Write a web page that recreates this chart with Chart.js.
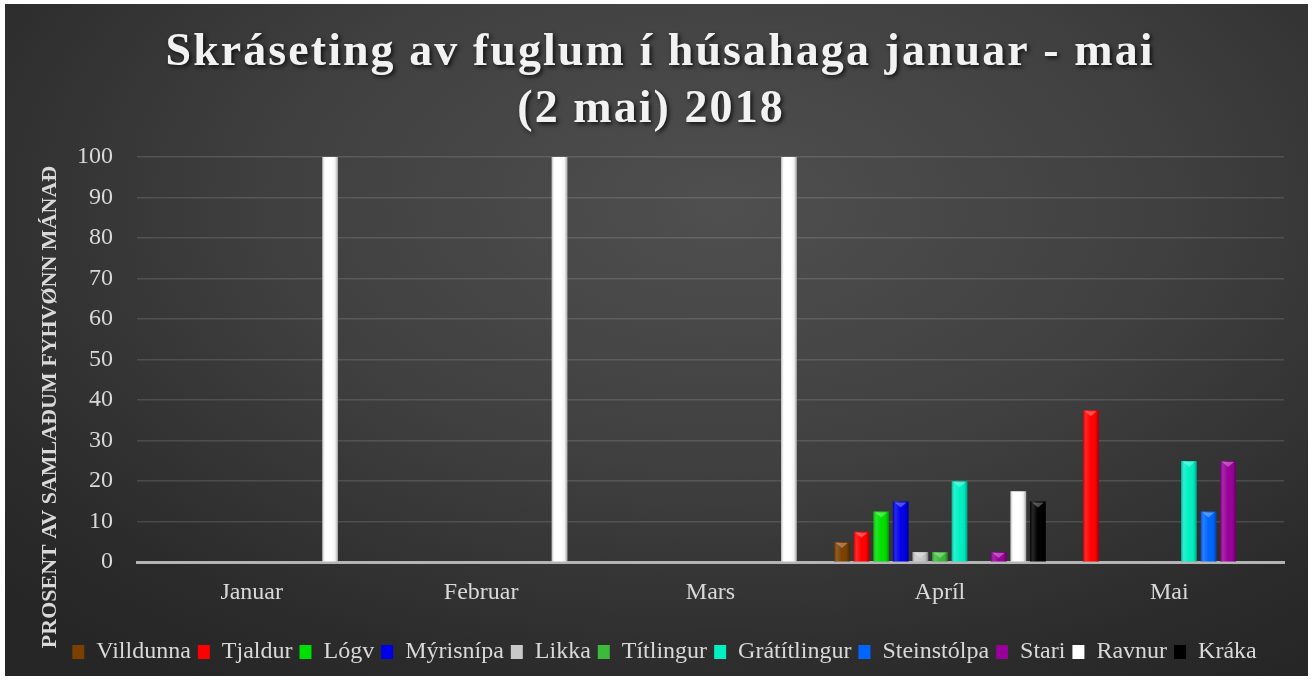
<!DOCTYPE html>
<html>
<head>
<meta charset="utf-8">
<script src="https://cdn.jsdelivr.net/npm/chart.js@4.4.1/dist/chart.umd.min.js"></script>
<style>
  html, body { margin: 0; padding: 0; background: #ffffff; }
  #wrap {
    position: absolute; left: 5px; top: 4px; width: 1303px; height: 672px;
    background: radial-gradient(ellipse 75% 85% at 55% 30%, #4f4f4f 0%, #404040 45%, #2b2b2b 85%, #262626 100%);
  }
</style>
</head>
<body>
<div id="wrap"><canvas id="chart"></canvas></div>
<script>
const months = ["Januar", "Februar", "Mars", "Apríl", "Mai"];
const species = ["Villdunna", "Tjaldur", "Lógv", "Mýrisnípa", "Likka", "Títlingur",
  "Grátítlingur", "Steinstólpa", "Stari", "Ravnur", "Kráka"];
const speciesColors = ["#7b3f00", "#ff0000", "#00e000", "#0000e8", "#c8c8c8", "#3cba3c",
  "#00f0c4", "#0066ff", "#990099", "#ffffff", "#000000"];
const villdunna = [0, 0, 0, 5, 0];
const tjaldur = [0, 0, 0, 7.5, 37.5];
const logv = [0, 0, 0, 12.5, 0];
const myrisnipa = [0, 0, 0, 15, 0];
const likka = [0, 0, 0, 2.5, 0];
const titlingur = [0, 0, 0, 2.5, 0];
const gratitlingur = [0, 0, 0, 20, 25];
const steinstolpa = [0, 0, 0, 0, 12.5];
const stari = [0, 0, 0, 2.5, 25];
const ravnur = [100, 100, 100, 17.5, 0];
const kraka = [0, 0, 0, 15, 0];
const seriesValues = [villdunna, tjaldur, logv, myrisnipa, likka, titlingur,
  gratitlingur, steinstolpa, stari, ravnur, kraka];
const yTicks = [0, 10, 20, 30, 40, 50, 60, 70, 80, 90, 100];

const TITLE_LINES = ["Skráseting av fuglum í húsahaga januar - mai", "(2 mai) 2018"];
const Y_TITLE = "PROSENT AV SAMLAÐUM FYHVØNN MÁNAÐ";
const FONT = "'Liberation Serif', 'DejaVu Serif', serif";
const TEXT = "#d9d9d9";

// title + y axis title, drawn by hand so letter spacing can match
const textPlugin = {
  id: "textPlugin",
  afterDraw(chart) {
    const ctx = chart.ctx;
    ctx.save();
    ctx.font = `bold 46px ${FONT}`;
    ctx.textAlign = "center";
    ctx.textBaseline = "alphabetic";
    ctx.letterSpacing = "0px";
    const w0 = ctx.measureText(TITLE_LINES[0]).width;
    const spacing = Math.max(0, (987 - w0) / (TITLE_LINES[0].length - 1));
    ctx.letterSpacing = `${spacing}px`;
    ctx.shadowColor = "rgba(0,0,0,0.75)";
    ctx.shadowBlur = 4;
    ctx.shadowOffsetX = 2;
    ctx.shadowOffsetY = 2;
    ctx.fillStyle = "#f2f2f2";
    ctx.fillText(TITLE_LINES[0], 654 + spacing / 2, 61);
    ctx.fillText(TITLE_LINES[1], 645 + spacing / 2, 118);
    ctx.restore();

    ctx.save();
    ctx.translate(45, 403);
    ctx.rotate(-Math.PI / 2);
    ctx.font = `bold 22px ${FONT}`;
    ctx.textAlign = "center";
    ctx.textBaseline = "middle";
    ctx.fillStyle = TEXT;
    ctx.fillText(Y_TITLE, 0, 0);
    ctx.restore();
  },
};

// bevel shading on top of the bars the library placed
const bevelPlugin = {
  id: "bevelPlugin",
  afterDatasetsDraw(chart) {
    const ctx = chart.ctx;
    chart.data.datasets.forEach((ds, i) => {
      const meta = chart.getDatasetMeta(i);
      meta.data.forEach((bar) => {
        const p = bar.getProps(["x", "y", "base", "width"], true);
        const h = p.base - p.y;
        if (h < 1) return;
        const l = p.x - p.width / 2;
        const r = p.x + p.width / 2;
        const g = ctx.createLinearGradient(l, 0, r, 0);
        g.addColorStop(0, "rgba(0,0,0,0.25)");
        g.addColorStop(0.18, "rgba(255,255,255,0.15)");
        g.addColorStop(0.5, "rgba(255,255,255,0)");
        g.addColorStop(0.82, "rgba(0,0,0,0.05)");
        g.addColorStop(1, "rgba(0,0,0,0.35)");
        ctx.save();
        ctx.fillStyle = g;
        ctx.fillRect(l, p.y, p.width, h);
        ctx.fillStyle = "rgba(255,255,255,0.3)";
        ctx.beginPath();
        ctx.moveTo(l + 2, p.y + 1);
        ctx.lineTo(r - 2, p.y + 1);
        ctx.lineTo(p.x, p.y + Math.min(6, h));
        ctx.closePath();
        ctx.fill();
        ctx.restore();
      });
    });
  },
};

const datasets = species.map((name, i) => ({
  label: name,
  data: seriesValues[i],
  backgroundColor: speciesColors[i],
  borderWidth: 0,
  categoryPercentage: 0.94,
  barPercentage: 0.8,
}));

new Chart(document.getElementById("chart"), {
  type: "bar",
  data: { labels: months, datasets: datasets },
  options: {
    responsive: true,
    maintainAspectRatio: false,
    animation: false,
    layout: { padding: { top: 153, left: 40, right: 24, bottom: 2 } },
    plugins: {
      title: { display: false },
      tooltip: { enabled: false },
      legend: {
        position: "bottom",
        labels: {
          color: TEXT,
          font: { family: FONT, size: 24 },
          boxWidth: 12,
          boxHeight: 14,
          padding: 7,
        },
      },
    },
    scales: {
      x: {
        grid: { display: false },
        border: { display: true, color: "#b4b4b4", width: 3 },
        ticks: { color: TEXT, font: { family: FONT, size: 24 }, padding: 8 },
        afterFit: (axis) => { axis.height += 18; },
      },
      y: {
        min: 0,
        max: 100,
        afterBuildTicks: (axis) => { axis.ticks = yTicks.map((v) => ({ value: v })); },
        afterFit: (axis) => { axis.width = 92; },
        border: { display: false },
        grid: { color: "rgba(255,255,255,0.13)", lineWidth: 1.5, drawTicks: false },
        ticks: { color: TEXT, font: { family: FONT, size: 24 }, padding: 24 },
      },
    },
  },
  plugins: [textPlugin, bevelPlugin],
});
</script>
</body>
</html>
